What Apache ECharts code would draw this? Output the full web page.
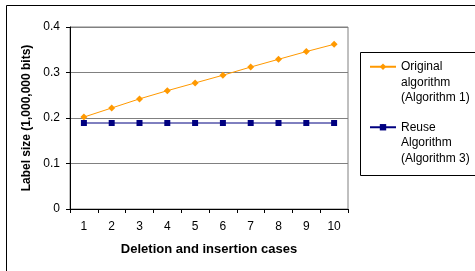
<!DOCTYPE html>
<html>
<head>
<meta charset="utf-8">
<script src="https://cdn.jsdelivr.net/npm/echarts@6/dist/echarts.min.js"></script>
<style>
  html, body { margin: 0; padding: 0; background: #fff; }
  #chart { width: 475px; height: 271px; }
</style>
</head>
<body>
<div id="chart"></div>
<script>
const cases = ['1', '2', '3', '4', '5', '6', '7', '8', '9', '10'];
const originalAlg = [0.202, 0.222, 0.242, 0.260, 0.277, 0.294, 0.312, 0.329, 0.346, 0.362];
const reuseAlg = [0.189, 0.189, 0.189, 0.189, 0.189, 0.189, 0.189, 0.189, 0.189, 0.189];
const yTicks = { min: 0, max: 0.4, interval: 0.1 };

const font = 'Liberation Sans, Arial, sans-serif';
const chart = echarts.init(document.getElementById('chart'));

const option = {
  animation: false,
  backgroundColor: '#fff',
  textStyle: { fontFamily: font },
  grid: {
    left: 70, top: 27, width: 278, height: 182,
    show: true, borderColor: '#808080', borderWidth: 1
  },
  // outer chart frame + legend frame
  graphic: [
    { type: 'rect', shape: { x: 6.5, y: 5.5, width: 480, height: 290 },
      style: { fill: null, stroke: '#000', lineWidth: 1 }, silent: true },
    { type: 'rect', shape: { x: 360.5, y: 52.5, width: 120, height: 123 },
      style: { fill: null, stroke: '#000', lineWidth: 1 }, silent: true }
  ],
  legend: {
    orient: 'vertical',
    left: 369, top: 28,
    padding: 0,
    itemWidth: 26, itemHeight: 8,
    itemGap: -17,
    selectedMode: false,
    // two blank lines on top so the icon sits on the first text line
    formatter: name => '\n\n' + name,
    textStyle: {
      fontFamily: font, fontSize: 12, color: '#000', lineHeight: 15.5
    }
  },
  xAxis: {
    type: 'category',
    data: cases,
    boundaryGap: true,
    name: 'Deletion and insertion cases',
    nameLocation: 'middle',
    nameGap: 34,
    nameTextStyle: { fontFamily: font, fontSize: 13, fontWeight: 'bold', color: '#000' },
    axisLine: { lineStyle: { color: '#000', width: 1 } },
    axisTick: { show: true, length: 4, lineStyle: { color: '#000' } },
    axisLabel: { fontFamily: font, fontSize: 12, color: '#000', margin: 12 }
  },
  yAxis: {
    type: 'value',
    min: yTicks.min, max: yTicks.max, interval: yTicks.interval,
    name: 'Label size (1,000,000 bits)',
    nameLocation: 'middle',
    nameGap: 37,
    nameTextStyle: { fontFamily: font, fontSize: 12, fontWeight: 'bold', color: '#000' },
    axisLine: { show: true, lineStyle: { color: '#000', width: 1 } },
    axisTick: { show: true, length: 4, lineStyle: { color: '#000' } },
    axisLabel: { fontFamily: font, fontSize: 12, color: '#000', margin: 10 },
    splitLine: { show: true, lineStyle: { color: '#808080', width: 1 } }
  },
  series: [
    {
      name: 'Original\nalgorithm\n(Algorithm 1)',
      type: 'line',
      data: originalAlg,
      symbol: 'diamond',
      symbolSize: 7,
      color: '#FF9900',
      lineStyle: { color: '#FF9900', width: 1 },
      itemStyle: { color: '#FF9900' }
    },
    {
      name: 'Reuse\nAlgorithm\n(Algorithm 3)',
      type: 'line',
      data: reuseAlg,
      symbol: 'rect',
      symbolSize: 6,
      color: '#000080',
      lineStyle: { color: '#000080', width: 1 },
      itemStyle: { color: '#000080' }
    }
  ]
};

chart.setOption(option);
</script>
</body>
</html>
